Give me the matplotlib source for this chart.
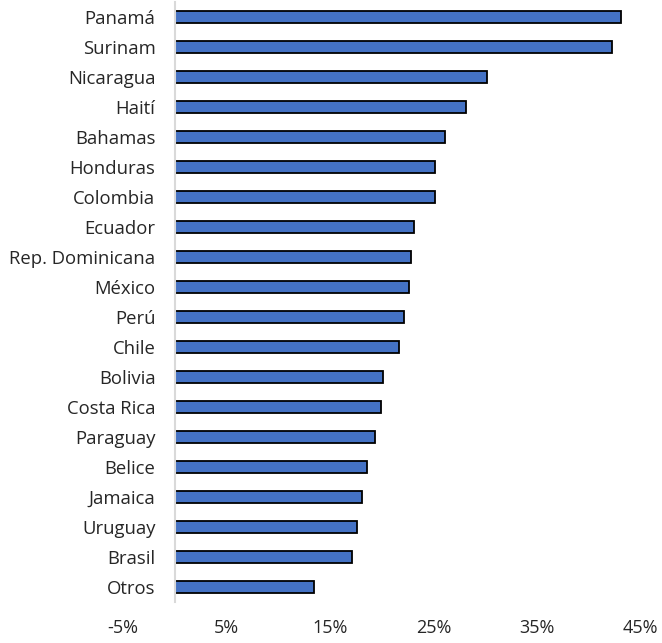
import matplotlib
matplotlib.use("Agg")
import matplotlib.pyplot as plt
from matplotlib.ticker import FuncFormatter

countries = ["Panamá", "Surinam", "Nicaragua", "Haití", "Bahamas", "Honduras",
             "Colombia", "Ecuador", "Rep. Dominicana", "México", "Perú", "Chile",
             "Bolivia", "Costa Rica", "Paraguay", "Belice", "Jamaica", "Uruguay",
             "Brasil", "Otros"]
values = [43.1, 42.2, 30.1, 28.1, 26.1, 25.1, 25.1, 23.1, 22.8, 22.6, 22.1, 21.6,
          20.1, 19.9, 19.3, 18.6, 18.1, 17.6, 17.1, 13.4]
xticks = [-5, 5, 15, 25, 35, 45]

plt.rcParams['font.family'] = ['Open Sans', 'DejaVu Sans']

fig = plt.figure(figsize=(6.62, 6.43), dpi=100)
ax = fig.add_axes([0.186, 0.064, 0.782, 0.933])

ypos = list(range(len(countries)))
ax.barh(ypos, values, height=0.4, color="#4472C4", edgecolor="black", linewidth=1.3)
ax.set_yticks(ypos)
ax.set_yticklabels(countries)
ax.set_ylim(len(countries) - 0.5, -0.5)
ax.set_xlim(-5, 45)
ax.set_xticks(xticks)
ax.xaxis.set_major_formatter(FuncFormatter(lambda v, p: f"{v:.0f}%"))
ax.tick_params(axis='x', length=0, labelsize=13, pad=12, labelcolor="#262626")
ax.tick_params(axis='y', length=0, pad=14, labelsize=13.3, labelcolor="#262626")

for s in ["top", "right", "bottom"]:
    ax.spines[s].set_visible(False)
ax.spines["left"].set_position(("data", 0))
ax.spines["left"].set_color("#d9d9d9")
ax.spines["left"].set_linewidth(1.5)

fig.savefig("out.png", dpi=100)
